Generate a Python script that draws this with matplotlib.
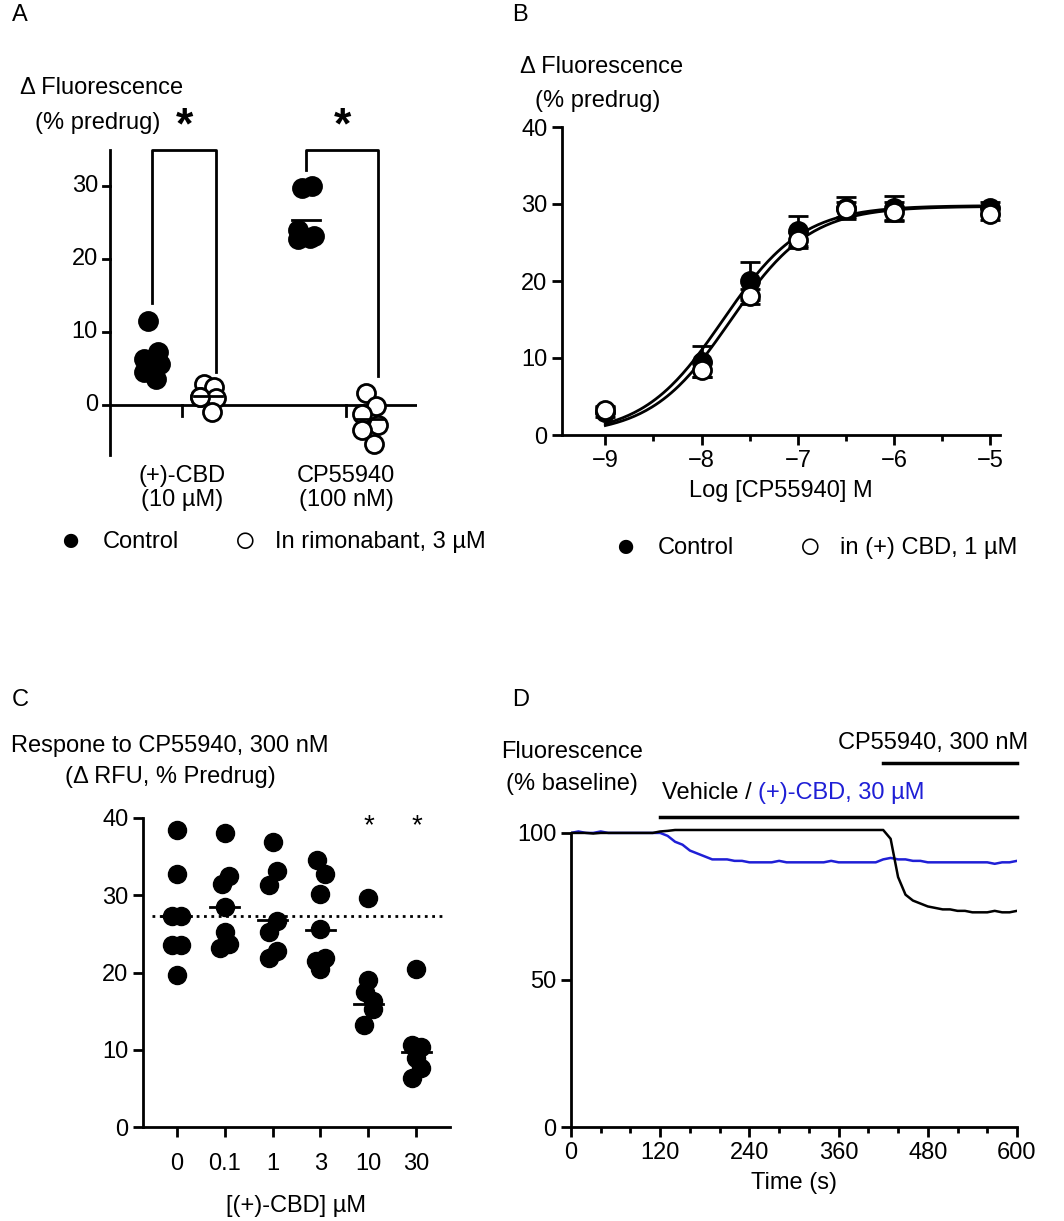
import numpy as np
import matplotlib
matplotlib.use("Agg")
import matplotlib.pyplot as plt
from matplotlib.ticker import MultipleLocator

plt.rcParams["font.family"] = ["Liberation Sans", "DejaVu Sans"]
FS = 17
plt.rcParams["font.size"] = FS

W, H = 1064, 1221

# ---- panel A data
a_cbd_ctrl = [11.5, 7.2, 6.3, 5.6, 4.5, 3.6]
a_cbd_rim = [2.8, 2.5, 1.1, 0.9, 1.0, -1.0]
a_cp_ctrl = [29.8, 30.0, 24.0, 23.2, 22.8, 22.9]
a_cp_rim = [1.6, -0.2, -1.3, -2.8, -3.4, -5.4]

# ---- panel B data
b_logx = [-9, -8, -7.5, -7, -6.5, -6, -5]
b_ctrl = [3.0, 9.5, 20.0, 26.5, 29.5, 29.5, 29.5]
b_ctrl_err = [0.6, 2.0, 2.5, 2.0, 1.4, 1.6, 0.8]
b_cbd = [3.3, 8.5, 18.0, 25.3, 29.3, 29.0, 28.7]
b_cbd_err = [0.5, 1.0, 1.0, 1.0, 1.0, 1.2, 0.8]
b_fit_ctrl = dict(top=29.8, logec50=-7.78, hill=1.05)
b_fit_cbd = dict(top=29.7, logec50=-7.70, hill=1.05)

# ---- panel C data
c_labels = ["0", "0.1", "1", "3", "10", "30"]
c_values = [
    [38.4, 32.7, 27.3, 27.3, 23.5, 23.5, 19.7],
    [38.1, 32.5, 31.5, 28.5, 25.3, 23.7, 23.2],
    [36.9, 33.2, 31.3, 26.7, 25.2, 22.8, 21.9],
    [34.5, 32.8, 30.1, 25.6, 21.9, 21.5, 20.5],
    [29.7, 19.0, 17.5, 16.3, 15.3, 13.2],
    [20.4, 10.6, 10.3, 8.9, 7.7, 6.3],
]
c_offsets = [
    [0, 0, -0.1, 0.1, -0.1, 0.1, 0],
    [0, 0.1, -0.05, 0, 0, 0.1, -0.1],
    [0, 0.1, -0.08, 0.1, -0.08, 0.1, -0.08],
    [-0.08, 0.1, 0, 0, 0.1, -0.1, 0],
    [0, 0, -0.08, 0.1, 0.1, -0.1],
    [0, -0.1, 0.1, 0, 0.1, -0.1],
]
c_means = [27.3, 28.5, 26.8, 25.5, 15.9, 9.7]
c_control_mean = 27.3

# ---- panel D data (10 s resolution)
d_time = list(range(0, 610, 10))
d_black = [100, 100, 100, 99.8, 100, 100, 100, 100, 100, 100, 100, 100, 100.5,
           100.7, 101, 101, 101, 101, 101, 101, 101, 101, 101, 101, 101, 101,
           101, 101, 101, 101, 101, 101, 101, 101, 101, 101, 101, 101, 101,
           101, 101, 101, 101, 98, 85, 79, 77, 76, 75, 74.5, 74, 74, 73.5,
           73.5, 73, 73, 73, 73.5, 73, 73, 73.5]
d_blue = [100, 100.5, 100, 100, 100.5, 100, 100, 100, 100, 100, 100, 100, 100,
          99, 97, 96, 94, 93, 92, 91, 91, 91, 90.5, 90.5, 90, 90, 90, 90,
          90.5, 90, 90, 90, 90, 90, 90, 90.5, 90, 90, 90, 90, 90, 90, 91,
          91.5, 91, 91, 90.5, 90.5, 90, 90, 90, 90, 90, 90, 90, 90, 90,
          89.5, 90, 90, 90.5]

fig = plt.figure(figsize=(W / 100, H / 100), dpi=100)


def add_ax(left, top, right, bottom):
    return fig.add_axes([left / W, 1 - bottom / H, (right - left) / W, (bottom - top) / H])


def style(ax):
    for s in ["top", "right"]:
        ax.spines[s].set_visible(False)
    for s in ["left", "bottom"]:
        ax.spines[s].set_linewidth(2)
    ax.tick_params(width=2, length=7, labelsize=FS)


ms = 13

# ---------------- A
ax = add_ax(110, 150, 417, 455)
ax.set_xlim(0, 7.67)
ax.set_ylim(-6.9, 35)
for s in ["top", "right", "bottom"]:
    ax.spines[s].set_visible(False)
ax.spines["left"].set_linewidth(2)
ax.set_yticks([])
ax.set_xticks([])
ax.axhline(0, color="black", lw=2)
for t in [0, 10, 20, 30]:
    ax.plot([-0.18, 0], [t, t], color="black", lw=2, clip_on=False)
    ax.text(-0.3, t, str(t), ha="right", va="center", fontsize=FS)
for t in [1.8, 5.9]:
    ax.plot([t, t], [0, -1.6], color="black", lw=2)
offs = [-0.1, 0.15, -0.2, 0.2, -0.2, 0.1]
groups = [(1.05, a_cbd_ctrl, "black"), (2.45, a_cbd_rim, "white"),
          (4.9, a_cp_ctrl, "black"), (6.5, a_cp_rim, "white")]
for xc, vals, fc in groups:
    ax.plot([xc + o for o in offs], vals, "o", ms=ms, mfc=fc, mec="black", mew=2, clip_on=False)
    m = np.mean(vals)
    ax.plot([xc - 0.35, xc + 0.35], [m, m], color="black", lw=2)
ax.plot([1.05, 1.05, 2.65, 2.65], [14, 35, 35, 4.5], color="black", lw=2, clip_on=False)
ax.plot([4.9, 4.9, 6.7, 6.7], [32.2, 35, 35, 3.9], color="black", lw=2, clip_on=False)
ax.text(1.85, 35.3, "*", ha="center", va="bottom", fontsize=32, fontweight="bold")
ax.text(5.8, 35.3, "*", ha="center", va="bottom", fontsize=32, fontweight="bold")
ax.text(1.8, -8.3, "(+)-CBD\n(10 µM)", ha="center", va="top", fontsize=FS, linespacing=1.1)
ax.text(5.9, -8.3, "CP55940\n(100 nM)", ha="center", va="top", fontsize=FS, linespacing=1.1)
fig.text(20 / W, 1 - 88 / H, "Δ Fluorescence", fontsize=FS, va="center")
fig.text(35 / W, 1 - 123 / H, "(% predrug)", fontsize=FS, va="center")
fig.text(70 / W, 1 - 542 / H, "●", fontsize=24, ha="center", va="center")
fig.text(103 / W, 1 - 542 / H, "Control", fontsize=FS, va="center")
fig.text(245 / W, 1 - 542 / H, "○", fontsize=27, ha="center", va="center")
fig.text(275 / W, 1 - 542 / H, "In rimonabant, 3 µM", fontsize=FS, va="center")

# ---------------- B
ax = add_ax(562, 127, 1000, 435)
style(ax)
ax.set_xlim(-9.45, -4.9)
ax.set_ylim(0, 40)
ax.set_xticks([-9, -8, -7, -6, -5])
ax.xaxis.set_minor_locator(MultipleLocator(0.5))
ax.tick_params(axis="x", which="minor", width=2, length=4)
ax.set_yticks([0, 10, 20, 30, 40])
xs = np.linspace(-9, -5, 200)
for p in (b_fit_ctrl, b_fit_cbd):
    ax.plot(xs, p["top"] / (1 + 10 ** ((p["logec50"] - xs) * p["hill"])), color="black", lw=2)
ax.errorbar(b_logx, b_ctrl, yerr=b_ctrl_err, fmt="none", ecolor="black", elinewidth=2, capsize=7, capthick=2)
ax.errorbar(b_logx, b_cbd, yerr=b_cbd_err, fmt="none", ecolor="black", elinewidth=2, capsize=7, capthick=2)
ax.plot(b_logx, b_ctrl, "o", ms=ms, mfc="black", mec="black", mew=2, clip_on=False)
ax.plot(b_logx, b_cbd, "o", ms=ms, mfc="white", mec="black", mew=2, clip_on=False)
ax.set_xlabel("Log [CP55940] M", fontsize=FS, labelpad=6)
fig.text(520 / W, 1 - 67 / H, "Δ Fluorescence", fontsize=FS, va="center")
fig.text(535 / W, 1 - 101 / H, "(% predrug)", fontsize=FS, va="center")
fig.text(625 / W, 1 - 548 / H, "●", fontsize=24, ha="center", va="center")
fig.text(658 / W, 1 - 548 / H, "Control", fontsize=FS, va="center")
fig.text(810 / W, 1 - 548 / H, "○", fontsize=27, ha="center", va="center")
fig.text(840 / W, 1 - 548 / H, "in (+) CBD, 1 µM", fontsize=FS, va="center")

# ---------------- C
ax = add_ax(143, 818, 450, 1127)
style(ax)
ax.set_xlim(-0.7, 5.7)
ax.set_ylim(0, 40)
ax.set_yticks([0, 10, 20, 30, 40])
ax.set_xticks(range(6))
ax.set_xticklabels(c_labels)
ax.tick_params(axis="x", pad=12)
ax.axhline(c_control_mean, xmin=0.03, xmax=0.98, color="black", lw=2, ls=":")
for i, vals in enumerate(c_values):
    ax.plot([i + o for o in c_offsets[i]], vals, "o", ms=ms, color="black", clip_on=False)
    ax.plot([i - 0.3, i + 0.3], [c_means[i], c_means[i]], color="black", lw=2)
for i in (4, 5):
    ax.text(i, 37.3, "*", ha="center", va="bottom", fontsize=20)
ax.set_xlabel("[(+)-CBD] µM", fontsize=FS, labelpad=14)
fig.text(170 / W, 1 - 746 / H, "Respone to CP55940, 300 nM", fontsize=FS, ha="center", va="center")
fig.text(170 / W, 1 - 777 / H, "(Δ RFU, % Predrug)", fontsize=FS, ha="center", va="center")

# ---------------- D
ax = add_ax(571, 730, 1017, 1127)
style(ax)
ax.set_xlim(0, 600)
ax.set_ylim(0, 135)
ax.spines["left"].set_bounds(0, 100)
ax.set_yticks([0, 50, 100])
ax.set_xticks(range(0, 601, 120))
ax.xaxis.set_minor_locator(MultipleLocator(40))
ax.tick_params(axis="x", which="minor", width=2, length=4)
ax.plot(d_time, d_blue, color="#1f1fd6", lw=1.8)
ax.plot(d_time, d_black, color="black", lw=1.8)
ax.plot([120, 600], [105.4, 105.4], color="black", lw=2.5, clip_on=False)
ax.plot([420, 600], [123.8, 123.8], color="black", lw=2.5, clip_on=False)
t1 = ax.text(122, 113.6, "Vehicle / ", fontsize=FS, va="center")
ax.annotate("(+)-CBD, 30 µM", xycoords=t1, xy=(1, 0.5), va="center", fontsize=FS, color="#1f1fd6")
ax.text(615, 130.5, "CP55940, 300 nM", fontsize=FS, ha="right", va="center")
ax.set_xlabel("Time (s)", fontsize=FS, labelpad=6)
fig.text(572 / W, 1 - 752 / H, "Fluorescence", fontsize=FS, ha="center", va="center")
fig.text(572 / W, 1 - 784 / H, "(% baseline)", fontsize=FS, ha="center", va="center")

for lab, x, y in [("A", 12, 15), ("B", 512, 15), ("C", 12, 700), ("D", 512, 700)]:
    fig.text(x / W, 1 - y / H, lab, fontsize=FS, va="center")

fig.savefig("out.png", dpi=100, facecolor="white")
